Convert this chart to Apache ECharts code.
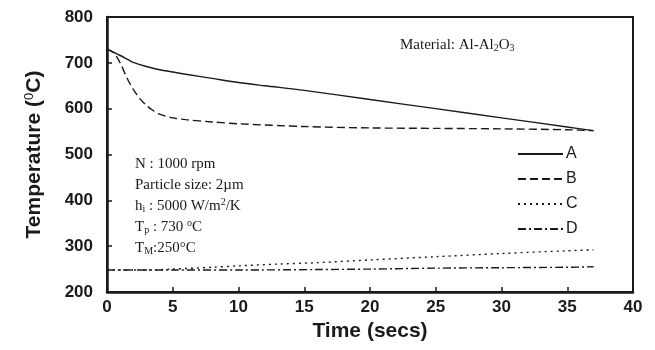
<!DOCTYPE html>
<html>
<head>
<meta charset="utf-8">
<script src="https://cdn.jsdelivr.net/npm/echarts@6/dist/echarts.min.js"></script>
<style>
  html, body { margin: 0; padding: 0; background: #fff; }
  #chart { width: 655px; height: 350px; }
</style>
</head>
<body>
<div id="chart"></div>
<script>
// Cooling curves of the Al-Al2O3 casting (temperature vs. time)
const timeA = [0, 1, 1.6, 2, 3, 4, 5, 6, 8, 10, 12, 15, 20, 25, 30, 35, 37];
const tempA = [730, 716, 707, 701, 692, 685, 680, 675, 666, 657, 650, 640, 620, 600, 580, 560, 552];

const timeB = [0, 0.5, 1, 1.5, 2, 2.5, 3, 3.5, 4, 5, 6, 8, 10, 15, 20, 25, 30, 35, 37];
const tempB = [730, 722, 700, 668, 642, 622, 607, 596, 588, 580, 576, 571, 567, 561, 558, 557, 556, 554, 552];

const timeC = [0, 3, 5, 8, 10, 13, 16, 20, 25, 30, 35, 37];
const tempC = [248, 248, 250, 254, 257, 261, 264, 270, 277, 284, 290, 292];

const timeD = [0, 5, 10, 16, 20, 25, 30, 35, 37];
const tempD = [248, 248, 248, 249, 250, 252, 253, 254, 255];

const seriesNames = ['A', 'B', 'C', 'D'];
const xTicks = { min: 0, max: 40, step: 5 };
const yTicks = { min: 200, max: 800, step: 100 };

const ink = '#1a1a1a';
const pairs = (xs, ys) => xs.map((x, i) => [x, ys[i]]);

const lineStyles = [
  { type: 'solid' },
  { type: [8, 4] },
  { type: [2, 4] },
  { type: [8, 3, 2, 3] }
];
const curves = [pairs(timeA, tempA), pairs(timeB, tempB), pairs(timeC, tempC), pairs(timeD, tempD)];

const chart = echarts.init(document.getElementById('chart'), null, { renderer: 'canvas' });

const serif = '"Liberation Serif", "Times New Roman", serif';
const sans = '"Liberation Sans", Arial, sans-serif';

chart.setOption({
  animation: false,
  backgroundColor: '#fff',
  grid: {
    left: 107, right: 22, top: 17, bottom: 58,
    show: true, borderColor: ink, borderWidth: 2, backgroundColor: 'transparent'
  },
  legend: {
    orient: 'vertical',
    left: 512, top: 141,
    itemWidth: 45, itemHeight: 14, itemGap: 9,
    data: seriesNames,
    itemStyle: { opacity: 0 },
    textStyle: { fontFamily: sans, fontSize: 16, color: ink, padding: [0, 0, 0, -2] }
  },
  xAxis: {
    type: 'value',
    min: xTicks.min, max: xTicks.max, interval: xTicks.step,
    name: 'Time (secs)',
    nameLocation: 'middle', nameGap: 29,
    nameTextStyle: { fontFamily: sans, fontSize: 21, fontWeight: 'bold', color: ink },
    axisLine: { show: true, lineStyle: { color: ink, width: 2.5 } },
    axisTick: { show: true, inside: true, length: 5, lineStyle: { color: ink, width: 1.5 } },
    axisLabel: { fontFamily: sans, fontSize: 17, fontWeight: 'bold', color: ink, margin: 7 },
    splitLine: { show: false }
  },
  yAxis: {
    type: 'value',
    min: yTicks.min, max: yTicks.max, interval: yTicks.step,
    name: '{t|Temperature (}{s|0}{t|C)}',
    nameLocation: 'middle', nameGap: 62, nameRotate: 90,
    nameTextStyle: {
      color: ink,
      rich: {
        t: { fontFamily: sans, fontSize: 21, fontWeight: 'bold', color: ink },
        s: { fontFamily: sans, fontSize: 13, fontWeight: 'normal', color: ink, verticalAlign: 'top', padding: [0, 0, 9, 0] }
      }
    },
    axisLine: { show: true, lineStyle: { color: ink, width: 2.5 } },
    axisTick: { show: true, inside: true, length: 5, lineStyle: { color: ink, width: 1.5 } },
    axisLabel: { fontFamily: sans, fontSize: 17, fontWeight: 'bold', color: ink, margin: 14 },
    splitLine: { show: false }
  },
  series: seriesNames.map((name, i) => ({
    name: name,
    type: 'line',
    data: curves[i],
    smooth: 0.3,
    symbol: 'none',
    lineStyle: Object.assign({ color: ink, width: 1.4 }, lineStyles[i]),
    itemStyle: { color: ink }
  })),
  graphic: [
    {
      type: 'text', left: 400, top: 38,
      style: {
        text: '{r|Material: Al-Al}{b|2}{r|O}{b|3}',
        rich: {
          r: { fontFamily: serif, fontSize: 15, fill: ink },
          b: { fontFamily: serif, fontSize: 10, fill: ink, padding: [6, 0, 0, 0] }
        }
      }
    },
    {
      type: 'text', left: 135, top: 157,
      style: {
        text: [
          '{r|N : 1000 rpm}',
          '{r|Particle size: 2\u00b5m}',
          '{r|h}{b|i}{r| : 5000 W/m}{p|2}{r|/K}',
          '{r|T}{b|p}{r| : 730 }{p|o}{r|C}',
          '{r|T}{b|M}{r|:250\u00b0C}'
        ].join('\n'),
        rich: {
          r: { fontFamily: serif, fontSize: 15, fill: ink, lineHeight: 21 },
          b: { fontFamily: serif, fontSize: 10, fill: ink, lineHeight: 21, padding: [6, 0, 0, 0] },
          p: { fontFamily: serif, fontSize: 10, fill: ink, lineHeight: 21, padding: [0, 0, 8, 0] }
        }
      }
    }
  ]
});
</script>
</body>
</html>
